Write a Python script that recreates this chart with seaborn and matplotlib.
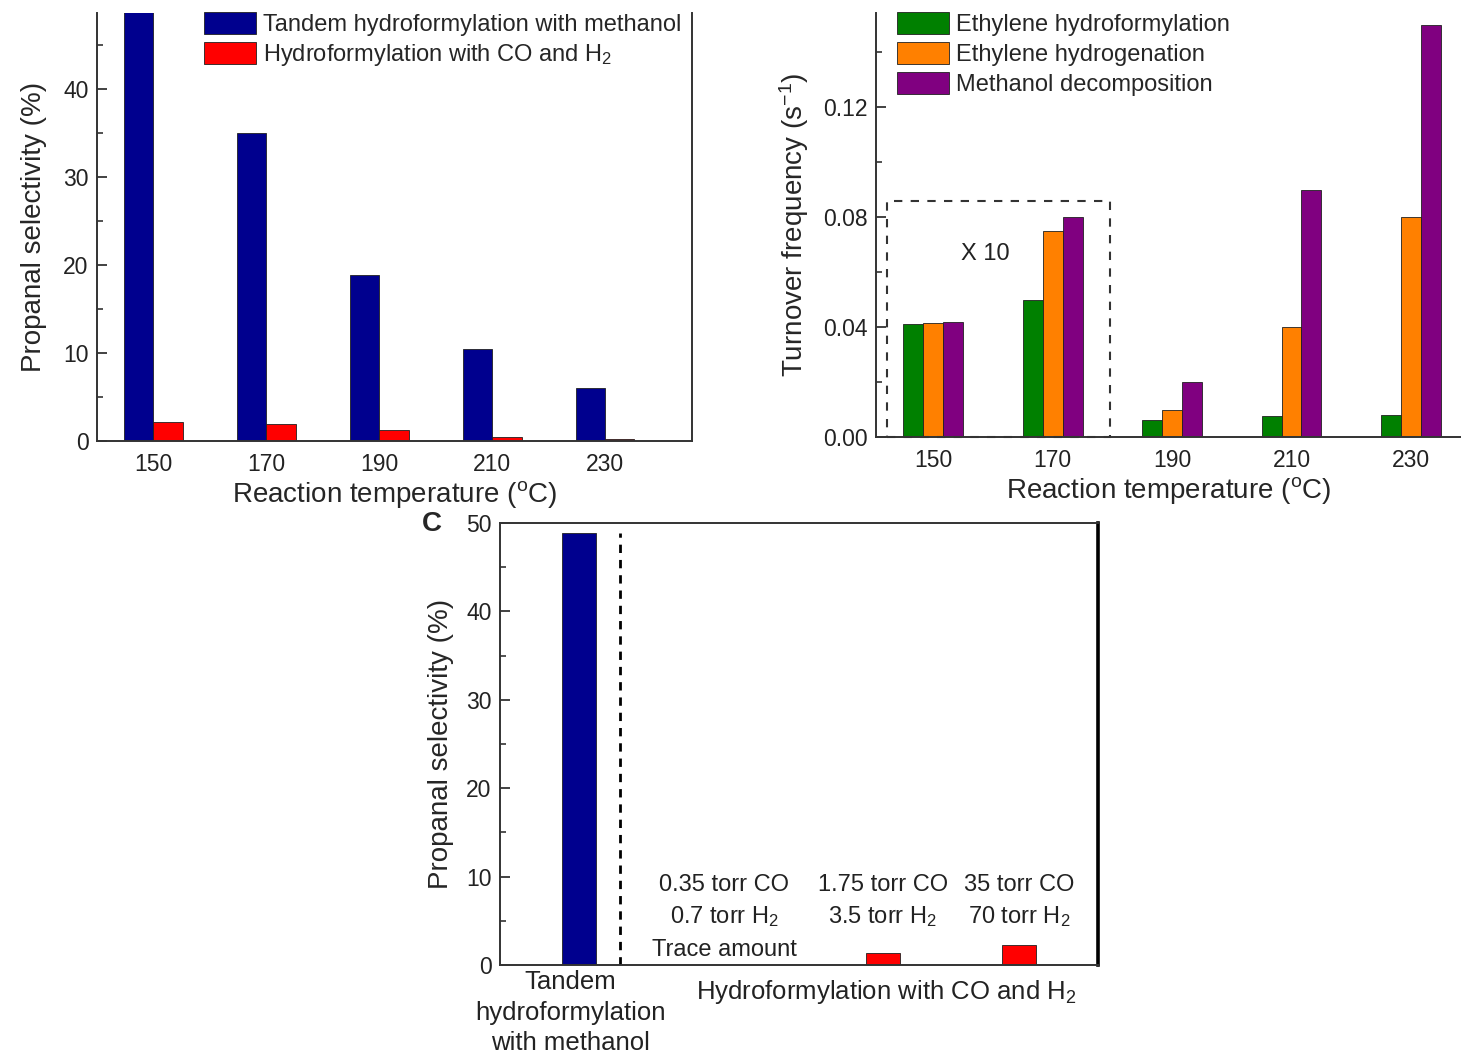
import pandas as pd
import matplotlib.pyplot as plt
import matplotlib.patches as mpatches
from matplotlib.ticker import MultipleLocator
import seaborn as sns

# ---- data ----
temps = ["150", "170", "190", "210", "230"]
series_a = ["Tandem hydroformylation with methanol", "Hydroformylation with CO and H$_2$"]
tandem_sel = [49.0, 35.0, 18.9, 10.5, 6.0]
syngas_sel = [2.15, 1.95, 1.25, 0.45, 0.2]

series_b = ["Ethylene hydroformylation", "Ethylene hydrogenation", "Methanol decomposition"]
tof_hydroformylation = [0.0411, 0.0498, 0.0062, 0.0076, 0.0080]
tof_hydrogenation = [0.0415, 0.0749, 0.0098, 0.0400, 0.0800]
tof_methanol = [0.0418, 0.0800, 0.0200, 0.0898, 0.1500]

c_conditions = ["Tandem", "0.35 torr CO", "1.75 torr CO", "35 torr CO"]
c_series = [series_a[0], series_a[1], series_a[1], series_a[1]]
c_selectivity = [48.9, 0.0, 1.35, 2.25]
c_notes = ["", "0.35 torr CO\n0.7 torr H$_2$\nTrace amount",
           "1.75 torr CO\n3.5 torr H$_2$", "35 torr CO\n70 torr H$_2$"]
c_tandem_label = ["Tandem", "hydroformylation", "with methanol"]

colors_a = ["#00008E", "#FF0000"]
colors_b = ["#008000", "#FF8000", "#800080"]

sns.set_theme(style="ticks")
plt.rcParams['font.family'] = ['Liberation Sans', 'DejaVu Sans']
plt.rcParams['mathtext.fontset'] = 'custom'
plt.rcParams['mathtext.rm'] = 'Liberation Sans'
plt.rcParams['mathtext.default'] = 'regular'

TICK = 16.5
LABEL = 20
LEG = 17
TXT = 18.5


def style_axes(ax, spines=("left", "bottom")):
    for side in ["left", "right", "top", "bottom"]:
        ax.spines[side].set_visible(side in spines)
        ax.spines[side].set_linewidth(1.4)
        ax.spines[side].set_color("#333333")
    ax.tick_params(axis="y", which="both", direction="in", labelsize=TICK, pad=6,
                   color="#333333", labelcolor="#222222")
    ax.tick_params(axis="y", which="major", length=7, width=1.3)
    ax.tick_params(axis="y", which="minor", length=4, width=1.2)
    ax.tick_params(axis="x", length=0, labelsize=TICK, pad=9, labelcolor="#222222")


fig = plt.figure(figsize=(14.61, 10.54), dpi=100)

# ---- panel A ----
df_a = pd.DataFrame({"temp": temps * 2,
                     "sel": tandem_sel + syngas_sel,
                     "series": [series_a[0]] * 5 + [series_a[1]] * 5})
ax_a = fig.add_axes([0.0664, 0.5816, 0.4073, 0.4061])
sns.barplot(data=df_a, x="temp", y="sel", hue="series", palette=colors_a, saturation=1,
            width=0.52, gap=0, edgecolor="#202020", linewidth=0.6, ax=ax_a)
ax_a.set_xlim(-0.5, 4.77)
ax_a.set_ylim(0, 48.6)
ax_a.yaxis.set_major_locator(MultipleLocator(10))
ax_a.yaxis.set_minor_locator(MultipleLocator(5))
ax_a.set_xlabel("Reaction temperature ($^{o}$C)", fontsize=LABEL, labelpad=2)
ax_a.set_ylabel("Propanal selectivity (%)", fontsize=LABEL, labelpad=12)
style_axes(ax_a, spines=("left", "bottom", "right"))
h, l = ax_a.get_legend_handles_labels()
ax_a.legend(h, l, loc="upper left", bbox_to_anchor=(0.18, 1.002), frameon=False,
            fontsize=LEG, handlelength=2.2, handleheight=1.06, labelspacing=0.25,
            handletextpad=0.3, borderpad=0, borderaxespad=0)

# ---- panel B ----
df_b = pd.DataFrame({"temp": temps * 3,
                     "tof": tof_hydroformylation + tof_hydrogenation + tof_methanol,
                     "series": [series_b[0]] * 5 + [series_b[1]] * 5 + [series_b[2]] * 5})
ax_b = fig.add_axes([0.5996, 0.5854, 0.4004, 0.4023])
sns.barplot(data=df_b, x="temp", y="tof", hue="series", palette=colors_b, saturation=1,
            width=0.5, gap=0, edgecolor="#202020", linewidth=0.6, ax=ax_b)
ax_b.set_xlim(-0.48, 4.42)
ax_b.set_ylim(0, 0.1542)
ax_b.yaxis.set_major_locator(MultipleLocator(0.04))
ax_b.yaxis.set_minor_locator(MultipleLocator(0.02))
ax_b.yaxis.set_major_formatter("{x:.2f}")
ax_b.set_xlabel("Reaction temperature ($^{o}$C)", fontsize=LABEL, labelpad=2)
ax_b.set_ylabel("Turnover frequency (s$^{-1}$)", fontsize=LABEL, labelpad=9)
style_axes(ax_b)
ax_b.add_patch(mpatches.Rectangle((-0.39, 0), 1.87, 0.0858, fill=False,
                                  linestyle=(0, (4, 4)), linewidth=1.5,
                                  edgecolor="#333333", clip_on=False))
ax_b.text(0.435, 0.0665, "X 10", fontsize=LEG, ha="center", va="center", color="#222222")
h, l = ax_b.get_legend_handles_labels()
ax_b.legend(h, l, loc="upper left", bbox_to_anchor=(0.036, 1.002), frameon=False,
            fontsize=LEG, handlelength=2.2, handleheight=1.06, labelspacing=0.25,
            handletextpad=0.3, borderpad=0, borderaxespad=0)

# ---- panel C ----
c_pos = [0.0, 1.07, 2.235, 3.235]  # layout positions along the axis
df_c = pd.DataFrame({"pos": c_pos, "sel": c_selectivity, "series": c_series,
                     "cond": c_conditions})
ax_c = fig.add_axes([0.3422, 0.0844, 0.4093, 0.4194])
sns.barplot(data=df_c, x="pos", y="sel", hue="series", palette=colors_a, saturation=1,
            native_scale=True, width=0.25, dodge=False, legend=False,
            edgecolor="#202020", linewidth=0.6, ax=ax_c)
ax_c.set_xlim(-0.58, 3.816)
ax_c.set_ylim(0, 50)
ax_c.yaxis.set_major_locator(MultipleLocator(10))
ax_c.yaxis.set_minor_locator(MultipleLocator(5))
ax_c.set_xticks([])
ax_c.set_xlabel("")
ax_c.set_ylabel("Propanal selectivity (%)", fontsize=LABEL, labelpad=9)
style_axes(ax_c, spines=("left", "bottom", "right", "top"))
ax_c.spines["right"].set_linewidth(2.6)
ax_c.spines["right"].set_color("black")
ax_c.plot([0.30, 0.30], [0, 48.9], linestyle=(0, (3, 2.5)), color="black", linewidth=2)

note_y = [9.05, 5.45, 1.7]
for pos, note in zip(c_pos, c_notes):
    for k, line in enumerate(note.split("\n")):
        ax_c.text(pos, note_y[k], line, fontsize=LEG, ha="center", va="center",
                  color="#222222")

xt = ax_c.get_xaxis_transform()
for line, yy in zip(c_tandem_label, [-0.038, -0.108, -0.177]):
    ax_c.text(-0.06, yy, line, transform=xt, fontsize=TXT, ha="center", va="center",
              color="#222222")
ax_c.text(2.26, -0.06, "Hydroformylation with CO and H$_2$", transform=xt,
          fontsize=TXT, ha="center", va="center", color="#222222")
fig.text(0.2957, 0.5028, "C", fontsize=LABEL, fontweight="bold", ha="center", va="center")

fig.savefig("out.png", dpi=100)
